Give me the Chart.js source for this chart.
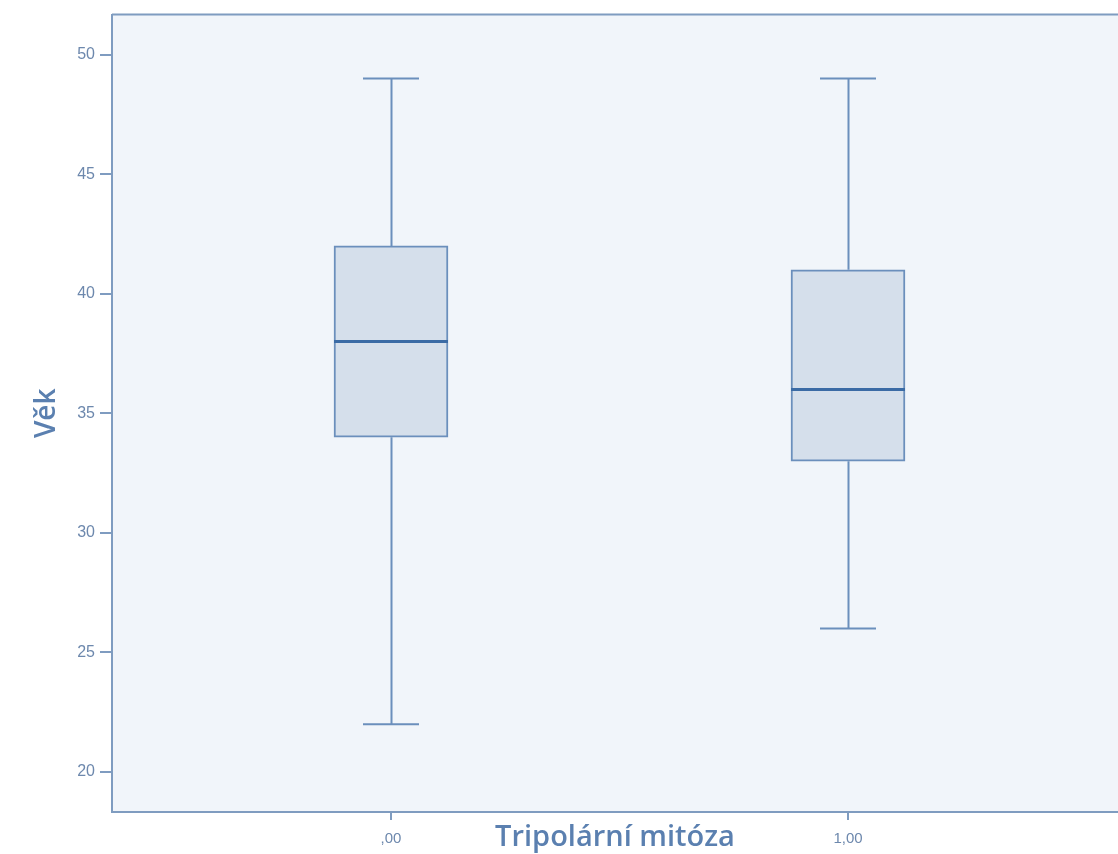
<!DOCTYPE html>
<html>
<head>
<meta charset="utf-8">
<script src="https://cdn.jsdelivr.net/npm/chart.js@4"></script>
<style>
  html, body { margin: 0; padding: 0; background: #ffffff; }
  #wrap { width: 1118px; height: 854px; }
</style>
</head>
<body>
<div id="wrap"><canvas id="myChart"></canvas></div>
<script>
// box plot data (Věk by Tripolární mitóza)
const groups = [0, 1];
const groupLabels = [",00", "1,00"];
const whiskerLow = [22, 26];
const q1 = [34, 33];
const medians = [38, 36];
const q3 = [42, 41];
const whiskerHigh = [49, 49];
const yTicks = [20, 25, 30, 35, 40, 45, 50];

const lineColor = "#6b8fbc";
const medianColor = "#3b6ba5";
const axisColor = "#7f9cc0";
const textColor = "#6d88ad";
const titleColor = "#5b80b0";
const capHalf = 0.0613;   // in x units

const boxPlugin = {
    id: "boxExtras",
    beforeDraw(chart) {
        const {ctx, chartArea} = chart;
        ctx.save();
        ctx.fillStyle = "#f1f5fa";
        ctx.fillRect(chartArea.left, chartArea.top, chartArea.right - chartArea.left, chartArea.bottom - chartArea.top);
        ctx.strokeStyle = axisColor;
        ctx.lineWidth = 2;
        ctx.beginPath();
        ctx.moveTo(chartArea.left, chartArea.top);
        ctx.lineTo(chartArea.right, chartArea.top);
        ctx.stroke();
        ctx.restore();
    },
    afterDatasetsDraw(chart) {
        const {ctx} = chart;
        const x = chart.scales.x;
        const y = chart.scales.y;
        ctx.save();
        ctx.lineCap = "butt";
        groups.forEach(function(g, i) {
            const cx = Math.round(x.getPixelForValue(g)) + 0.5;
            const l = x.getPixelForValue(g - capHalf);
            const r = x.getPixelForValue(g + capHalf);
            ctx.strokeStyle = lineColor;
            ctx.lineWidth = 2;
            ctx.beginPath();
            ctx.moveTo(cx, y.getPixelForValue(whiskerLow[i]));
            ctx.lineTo(cx, y.getPixelForValue(q1[i]));
            ctx.moveTo(cx, y.getPixelForValue(q3[i]));
            ctx.lineTo(cx, y.getPixelForValue(whiskerHigh[i]));
            ctx.moveTo(l, y.getPixelForValue(whiskerLow[i]));
            ctx.lineTo(r, y.getPixelForValue(whiskerLow[i]));
            ctx.moveTo(l, y.getPixelForValue(whiskerHigh[i]));
            ctx.lineTo(r, y.getPixelForValue(whiskerHigh[i]));
            ctx.stroke();

            const meta = chart.getDatasetMeta(0).data[i];
            ctx.strokeStyle = medianColor;
            ctx.lineWidth = 3;
            ctx.beginPath();
            ctx.moveTo(meta.x - meta.width / 2, y.getPixelForValue(medians[i]));
            ctx.lineTo(meta.x + meta.width / 2, y.getPixelForValue(medians[i]));
            ctx.stroke();
        });
        ctx.restore();
    }
};

const ctx = document.getElementById("myChart");
const myChart = new Chart(ctx, {
    type: "bar",
    data: {
        datasets: [{
            label: "Věk",
            data: groups.map(function(g, i) { return {x: g, y: [q1[i], q3[i]]}; }),
            backgroundColor: "#d5dfeb",
            borderColor: lineColor,
            borderWidth: 2,
            borderSkipped: false,
            barThickness: 114
        }]
    },
    options: {
        responsive: true,
        maintainAspectRatio: false,
        animation: false,
        layout: { padding: { top: 14, right: 0, bottom: 0, left: 0 } },
        plugins: {
            legend: { display: false },
            tooltip: { enabled: false }
        },
        scales: {
            x: {
                type: "linear",
                offset: false,
                min: -0.6105,
                max: 1.5908,
                afterBuildTicks: function(scale) {
                    scale.ticks = groups.map(function(g) { return {value: g}; });
                },
                afterFit: function(scale) { scale.height = 42; },
                ticks: {
                    color: textColor,
                    font: { family: "Liberation Sans", size: 15 },
                    padding: 10,
                    maxRotation: 0,
                    callback: function(value) { return groupLabels[groups.indexOf(value)]; }
                },
                grid: { offset: false, drawOnChartArea: false, color: axisColor, tickLength: 8, lineWidth: 2 },
                border: { display: true, color: axisColor, width: 2 },
                title: {
                    display: true,
                    text: "Tripolární mitóza",
                    color: titleColor,
                    font: { family: "Open Sans", size: 29, weight: "600" },
                    padding: { top: 0, bottom: -1 }
                }
            },
            y: {
                min: 18.329,
                max: 51.671,
                afterBuildTicks: function(scale) {
                    scale.ticks = yTicks.map(function(v) { return {value: v}; });
                },
                afterFit: function(scale) { scale.width = 112; },
                ticks: {
                    color: textColor,
                    font: { family: "Liberation Sans", size: 16 },
                    padding: 5
                },
                grid: { drawOnChartArea: false, color: axisColor, tickLength: 12, lineWidth: 2 },
                border: { display: true, color: axisColor, width: 2 },
                title: {
                    display: true,
                    text: "Věk",
                    color: titleColor,
                    font: { family: "Open Sans", size: 28, weight: "600" },
                    padding: { top: 30, bottom: 0 }
                }
            }
        }
    },
    plugins: [boxPlugin]
});
</script>
</body>
</html>
